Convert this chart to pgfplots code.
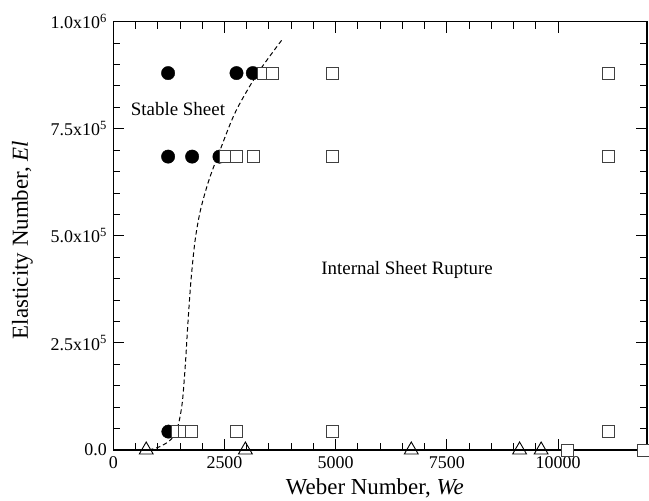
\documentclass[border=0pt]{standalone}
\usepackage{fontspec}
\setmainfont{Liberation Serif}
\usepackage{pgfplots}
\pgfplotsset{compat=1.18}
\begin{document}
\begin{tikzpicture}
\begin{axis}[
  name=ax,
  scale only axis,
  width=533.7bp, height=428.3bp,
  xmin=0, xmax=12000, ymin=0, ymax=1000000,
  xtick={0,2500,5000,7500,10000},
  xticklabels={0,2500,5000,7500,10000},
  ytick={0,250000,500000,750000,1000000},
  yticklabels={0.0,2.5x10\textsuperscript{5},5.0x10\textsuperscript{5},7.5x10\textsuperscript{5},1.0x10\textsuperscript{6}},
  minor x tick num=4,
  minor y tick num=4,
  scaled ticks=false,
  tick align=inside,
  major tick length=11bp,
  minor tick length=7bp,
  every tick/.style={black, line width=1bp},
  axis line style={line width=1.2bp},
  ticklabel style={font=\fontsize{18}{20}\selectfont},
  xticklabel style={yshift=-3bp},
  yticklabel style={xshift=-3bp},
  xlabel={Weber Number, \textit{We}},
  ylabel={Elasticity Number, \textit{El}},
  label style={font=\fontsize{23}{26}\selectfont},
  xlabel style={at={(axis description cs:0.49,-0.066)}, anchor=north, inner sep=0pt},
  ylabel style={at={(axis description cs:-0.19,0.49)}, anchor=north, inner sep=0pt},
  clip=false,
]
% stable sheet (filled circles)
\addplot[only marks, mark=*, mark size=6.7bp, black] coordinates {
  (1232,880000) (2770,880000) (3137,880000)
  (1232,685000) (1772,685000) (2387,685000)
  (1238,43000)
};
% internal sheet rupture (open squares)
\addplot[only marks, mark=square*, mark size=6bp, mark options={draw=black!75, fill=white, line width=0.9bp}] coordinates {
  (3371,880000) (3574,880000) (4925,880000) (11140,880000)
  (2522,685000) (2770,685000) (3146,685000) (4925,685000) (11140,685000)
  (1450,43000) (1600,43000) (1765,43000) (2780,43000) (4930,43000) (11140,43000)
  (10220,0) (11915,0)
};
% open triangles
\addplot[only marks, mark=triangle, mark size=8bp, mark options={draw=black, line width=0.9bp}] coordinates {
  (740,0) (2970,0) (6700,0) (9135,0) (9620,0)
};
% boundary (dashed)
\addplot[smooth, tension=0.5, black, line width=1bp, dash pattern=on 4.5bp off 3bp] coordinates {
  (800,0) (1050,8000) (1300,25000) (1450,55000) (1550,110000) (1620,200000)
  (1680,300000) (1750,400000) (1840,490000) (1960,560000) (2150,630000)
  (2400,700000) (2750,790000) (3250,880000) (3810,960000)
};
\node[anchor=base west, inner sep=0pt, font=\fontsize{19}{22}\selectfont] at (axis cs:392,780000) {Stable Sheet};
\node[anchor=base west, inner sep=0pt, font=\fontsize{19}{22}\selectfont] at (axis cs:4674,408600) {Internal Sheet Rupture};
\end{axis}
\pgfresetboundingbox
\path[use as bounding box] ([xshift=-113.3bp,yshift=-51bp]ax.south west) rectangle ([xshift=2bp,yshift=21.7bp]ax.north east);
\end{tikzpicture}
\end{document}
